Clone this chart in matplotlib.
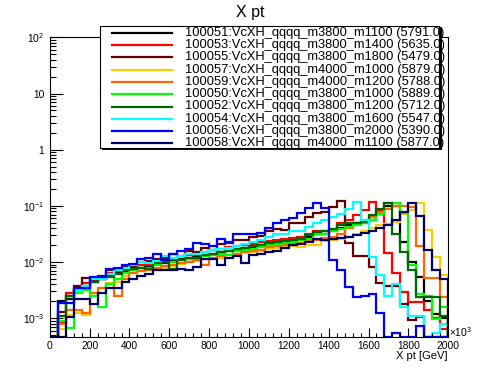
import numpy as np
import matplotlib
matplotlib.use("Agg")
import matplotlib.pyplot as plt
from matplotlib.lines import Line2D
from matplotlib.patches import Rectangle
from matplotlib.ticker import FixedLocator, NullFormatter

plt.rcParams['font.family'] = ['Liberation Sans', 'DejaVu Sans']
plt.rcParams['mathtext.fontset'] = 'custom'
plt.rcParams['mathtext.rm'] = 'Liberation Sans'
plt.rcParams['mathtext.it'] = 'Liberation Sans:italic'

# 50 bins of 40 GeV, 0 - 2000 GeV
bin_edges = np.arange(0, 2001, 40)

# normalised bin contents (0 = empty bin)
h_100051 = [0, 2.0e-3, 2.2e-3, 3.2e-3, 3.8e-3, 4.5e-3, 5.0e-3, 5.6e-3, 6.3e-3, 6.8e-3,
            7.4e-3, 7.9e-3, 8.5e-3, 9.1e-3, 9.8e-3, 1.05e-2, 1.12e-2, 1.17e-2, 1.26e-2, 1.35e-2,
            1.41e-2, 1.48e-2, 1.58e-2, 1.66e-2, 1.78e-2, 1.86e-2, 2.0e-2, 2.1e-2, 2.2e-2, 2.3e-2,
            2.4e-2, 2.5e-2, 2.8e-2, 3.2e-2, 3.2e-2, 3.5e-2, 4.0e-2, 4.5e-2, 5.0e-2, 5.0e-2,
            5.5e-2, 7.1e-2, 0.10, 0.10, 2.3e-2, 1.0e-2, 5.4e-3, 2.0e-3, 1.17e-3, 1.0e-3]
h_100053 = [0, 8.5e-4, 2.8e-3, 3.2e-3, 4.2e-3, 4.5e-3, 5.0e-3, 6.3e-3, 6.8e-3, 7.6e-3,
            7.9e-3, 8.9e-3, 8.9e-3, 1.0e-2, 1.07e-2, 1.12e-2, 1.26e-2, 1.32e-2, 1.41e-2, 1.48e-2,
            1.66e-2, 1.7e-2, 1.82e-2, 1.9e-2, 2.0e-2, 2.1e-2, 2.24e-2, 2.35e-2, 2.5e-2, 2.6e-2,
            2.7e-2, 2.8e-2, 3.2e-2, 3.5e-2, 3.5e-2, 3.7e-2, 5.0e-2, 5.5e-2, 6.8e-2, 8.3e-2,
            0.117, 8.3e-2, 1.45e-2, 6.3e-3, 2.95e-3, 1.95e-3, 1.95e-3, 1.38e-3, 1.0e-3, 6.3e-4]
h_100055 = [0, 1.3e-3, 2.5e-3, 3.8e-3, 5.1e-3, 4.7e-3, 5.6e-3, 7.1e-3, 7.6e-3, 8.3e-3,
            8.3e-3, 1.0e-2, 1.05e-2, 1.12e-2, 1.2e-2, 1.41e-2, 1.3e-2, 1.58e-2, 1.48e-2, 1.78e-2,
            1.66e-2, 2.1e-2, 2.2e-2, 2.5e-2, 2.5e-2, 2.8e-2, 2.95e-2, 3.5e-2, 3.8e-2, 3.7e-2,
            5.0e-2, 5.0e-2, 6.3e-2, 7.4e-2, 7.9e-2, 9.5e-2, 0.123, 2.2e-2, 1.3e-2, 1.26e-2,
            8.1e-3, 4.2e-3, 3.7e-3, 3.7e-3, 1.8e-3, 9.1e-4, 1.05e-3, 0, 0, 0]
h_100057 = [0, 6.3e-4, 1.12e-3, 1.26e-3, 1.12e-3, 2.5e-3, 3.5e-3, 4.2e-3, 4.5e-3, 5.6e-3,
            6.3e-3, 6.8e-3, 7.1e-3, 7.1e-3, 7.9e-3, 8.5e-3, 9.3e-3, 1.0e-2, 1.05e-2, 1.12e-2,
            1.17e-2, 1.2e-2, 1.32e-2, 1.41e-2, 1.48e-2, 1.5e-2, 1.58e-2, 1.7e-2, 1.78e-2, 1.82e-2,
            1.9e-2, 1.82e-2, 2.05e-2, 2.05e-2, 2.4e-2, 2.5e-2, 2.6e-2, 2.8e-2, 3.2e-2, 3.5e-2,
            4.0e-2, 4.5e-2, 4.8e-2, 5.1e-2, 7.1e-2, 8.3e-2, 0.112, 3.7e-2, 1.23e-2, 5.8e-3]
h_100059 = [0, 7.9e-4, 1.41e-3, 1.41e-3, 1.26e-3, 2.8e-3, 3.5e-3, 4.0e-3, 2.5e-3, 5.0e-3,
            6.3e-3, 6.8e-3, 7.1e-3, 7.9e-3, 8.5e-3, 8.9e-3, 9.5e-3, 1.0e-2, 1.07e-2, 8.9e-3,
            1.2e-2, 1.26e-2, 1.35e-2, 1.41e-2, 1.5e-2, 1.58e-2, 1.66e-2, 1.82e-2, 1.9e-2, 2.0e-2,
            2.1e-2, 2.2e-2, 2.35e-2, 2.5e-2, 2.7e-2, 2.8e-2, 3.2e-2, 4.0e-2, 5.0e-2, 5.6e-2,
            6.3e-2, 7.9e-2, 8.9e-2, 0.10, 0.10, 9.5e-2, 1.9e-2, 5.1e-3, 5.1e-3, 2.4e-3]
h_100050 = [0, 8.9e-4, 6.6e-4, 2.8e-3, 3.2e-3, 2.5e-3, 1.58e-3, 4.0e-3, 5.0e-3, 6.3e-3,
            7.1e-3, 7.9e-3, 7.9e-3, 8.9e-3, 1.0e-2, 1.0e-2, 1.07e-2, 1.15e-2, 1.2e-2, 1.26e-2,
            1.32e-2, 1.41e-2, 1.35e-2, 1.58e-2, 1.66e-2, 1.74e-2, 1.86e-2, 2.0e-2, 2.1e-2, 2.2e-2,
            2.3e-2, 2.45e-2, 2.6e-2, 3.2e-2, 3.2e-2, 3.5e-2, 3.8e-2, 4.2e-2, 4.5e-2, 5.0e-2,
            5.6e-2, 7.1e-2, 0.112, 0.112, 7.4e-2, 8.7e-3, 2.75e-3, 2.5e-3, 9.5e-4, 1.6e-3]
h_100052 = [0, 1.1e-3, 2.5e-3, 3.2e-3, 3.5e-3, 4.5e-3, 5.0e-3, 5.4e-3, 6.0e-3, 7.1e-3,
            7.6e-3, 7.9e-3, 7.6e-3, 9.5e-3, 1.0e-2, 7.6e-3, 1.07e-2, 1.17e-2, 1.2e-2, 1.32e-2,
            1.38e-2, 1.5e-2, 1.58e-2, 1.7e-2, 1.78e-2, 1.9e-2, 2.0e-2, 2.15e-2, 2.3e-2, 2.4e-2,
            2.5e-2, 2.6e-2, 3.0e-2, 3.4e-2, 3.5e-2, 3.8e-2, 4.5e-2, 5.0e-2, 5.0e-2, 5.2e-2,
            6.8e-2, 8.9e-2, 0.112, 3.2e-2, 1.5e-2, 7.1e-3, 2.4e-3, 2.4e-3, 2.4e-3, 1.1e-3]
h_100054 = [0, 1.9e-3, 1.9e-3, 3.2e-3, 3.8e-3, 5.0e-3, 5.0e-3, 6.0e-3, 7.1e-3, 7.9e-3,
            8.9e-3, 1.0e-2, 9.5e-3, 1.05e-2, 1.26e-2, 1.17e-2, 1.26e-2, 1.41e-2, 1.38e-2, 1.5e-2,
            1.62e-2, 1.7e-2, 1.78e-2, 1.9e-2, 2.1e-2, 2.24e-2, 2.5e-2, 2.8e-2, 3.2e-2, 3.2e-2,
            3.5e-2, 3.5e-2, 4.2e-2, 4.9e-2, 5.6e-2, 6.3e-2, 7.1e-2, 8.9e-2, 0.117, 5.5e-2,
            1.23e-2, 5.8e-3, 2.45e-3, 4.0e-3, 1.58e-3, 1.1e-3, 1.1e-3, 0, 5.4e-4, 7.9e-4]
h_100056 = [0, 1.9e-3, 1.9e-3, 3.5e-3, 3.5e-3, 5.4e-3, 5.4e-3, 7.4e-3, 7.8e-3, 8.7e-3,
            9.1e-3, 1.15e-2, 1.2e-2, 1.41e-2, 1.1e-2, 1.41e-2, 1.58e-2, 1.74e-2, 2.2e-2, 2.1e-2,
            1.9e-2, 2.6e-2, 2.3e-2, 3.1e-2, 3.1e-2, 3.2e-2, 3.3e-2, 4.0e-2, 5.0e-2, 5.5e-2,
            6.0e-2, 7.4e-2, 9.1e-2, 0.112, 9.1e-2, 1.07e-2, 7.1e-3, 3.6e-3, 2.4e-3, 2.5e-3,
            2.75e-3, 1.23e-3, 0, 5.5e-4, 0, 0, 7.2e-4, 0, 0, 0]
h_100058 = [0, 0, 1.05e-3, 2.2e-3, 2.2e-3, 1.78e-3, 2.8e-3, 3.5e-3, 3.5e-3, 4.5e-3,
            5.0e-3, 5.6e-3, 6.0e-3, 7.1e-3, 7.1e-3, 7.1e-3, 7.4e-3, 7.1e-3, 8.1e-3, 1.15e-2,
            1.15e-2, 8.7e-3, 1.17e-2, 1.26e-2, 9.5e-3, 1.32e-2, 1.41e-2, 1.48e-2, 1.58e-2, 1.78e-2,
            2.0e-2, 2.1e-2, 2.24e-2, 2.6e-2, 2.5e-2, 2.6e-2, 2.7e-2, 2.8e-2, 3.0e-2, 3.3e-2,
            3.5e-2, 4.0e-2, 4.5e-2, 5.5e-2, 7.8e-2, 0.112, 6.6e-2, 1.66e-2, 7.1e-3, 4.9e-3]

labels = [
    "100051:VcXH_qqqq_m3800_m1100 (5791.0)",
    "100053:VcXH_qqqq_m3800_m1400 (5635.0)",
    "100055:VcXH_qqqq_m3800_m1800 (5479.0)",
    "100057:VcXH_qqqq_m4000_m1000 (5879.0)",
    "100059:VcXH_qqqq_m4000_m1200 (5788.0)",
    "100050:VcXH_qqqq_m3800_m1000 (5889.0)",
    "100052:VcXH_qqqq_m3800_m1200 (5712.0)",
    "100054:VcXH_qqqq_m3800_m1600 (5547.0)",
    "100056:VcXH_qqqq_m3800_m2000 (5390.0)",
    "100058:VcXH_qqqq_m4000_m1100 (5877.0)",
]
hists = [h_100051, h_100053, h_100055, h_100057, h_100059,
         h_100050, h_100052, h_100054, h_100056, h_100058]
colors = ['#000000', '#ff0000', '#660000', '#ffcc00', '#ff6600',
          '#00ff00', '#006600', '#00ffff', '#0000ff', '#000066']

W, H = 498, 374
ymin, ymax = 4.7e-4, 100

fig = plt.figure(figsize=(W / 100, H / 100), dpi=100)
ax = fig.add_axes([0.1, 0.1, 0.8, 0.8])

for vals, c in zip(hists, colors):
    v = np.maximum(np.array(vals, dtype=float), ymin)  # empty bins sit on the frame
    ax.stairs(v, bin_edges, color=c, lw=1.6, baseline=ymin)

ax.set_yscale('log')
ax.set_xlim(0, 2000)
ax.set_ylim(ymin, ymax)

# ROOT-like axes
ax.xaxis.set_major_locator(FixedLocator(np.arange(0, 2001, 200)))
ax.xaxis.set_minor_locator(FixedLocator(np.arange(0, 2001, 40)))
ax.set_xticklabels([str(int(t)) for t in np.arange(0, 2001, 200)])
decades = [1e-3, 1e-2, 1e-1, 1, 10, 100]
ax.yaxis.set_major_locator(FixedLocator(decades))
ax.set_yticklabels([r'$10^{-3}$', r'$10^{-2}$', r'$10^{-1}$', '1', '10', r'$10^{2}$'])
minors = [m * d for d in [1e-4, 1e-3, 1e-2, 1e-1, 1, 10] for m in range(2, 10)]
ax.yaxis.set_minor_locator(FixedLocator(minors))
ax.yaxis.set_minor_formatter(NullFormatter())
ax.tick_params(axis='x', which='major', direction='in', length=6.5, width=0.8,
               labelsize=7.4, pad=3, top=False)
ax.tick_params(axis='x', which='minor', direction='in', length=3.2, width=0.8, top=False)
ax.tick_params(axis='y', which='major', direction='in', length=9, width=0.8,
               labelsize=7.4, pad=4, right=False)
ax.tick_params(axis='y', which='minor', direction='in', length=4.5, width=0.8, right=False)
for s in ax.spines.values():
    s.set_linewidth(0.8)

fig.text(250 / W, 1 - 13 / H, "X pt", ha='center', va='center', fontsize=11.5)
fig.text(447 / W, 1 - 356 / H, "X pt [GeV]", ha='right', va='center', fontsize=8)
fig.text(449 / W, 1 - 332 / H, r'$\times10^{3}$', ha='left', va='center', fontsize=7.4)

# legend box drawn like the ROOT TLegend
lx0, lx1, ly0, ly1 = 100, 439, 26, 148
fig.patches.append(Rectangle((lx0 / W + 1.5 / W, 1 - (ly1 + 1.5) / H), (lx1 - lx0) / W, (ly1 - ly0) / H,
                             transform=fig.transFigure, facecolor='black', edgecolor='black',
                             lw=0.6, zorder=5))
fig.patches.append(Rectangle((lx0 / W, 1 - ly1 / H), (lx1 - lx0) / W, (ly1 - ly0) / H,
                             transform=fig.transFigure, facecolor='white', edgecolor='black',
                             lw=0.8, zorder=6))
for k, (lab, c) in enumerate(zip(labels, colors)):
    yy = 1 - (32.7 + 12.3 * k) / H
    fig.lines.append(Line2D([112 / W, 172 / W], [yy, yy], color=c, lw=1.6,
                            transform=fig.transFigure, zorder=7))
    fig.text(185 / W, yy, lab, ha='left', va='center', fontsize=9.3, zorder=8)

fig.savefig("out.png", dpi=100)
